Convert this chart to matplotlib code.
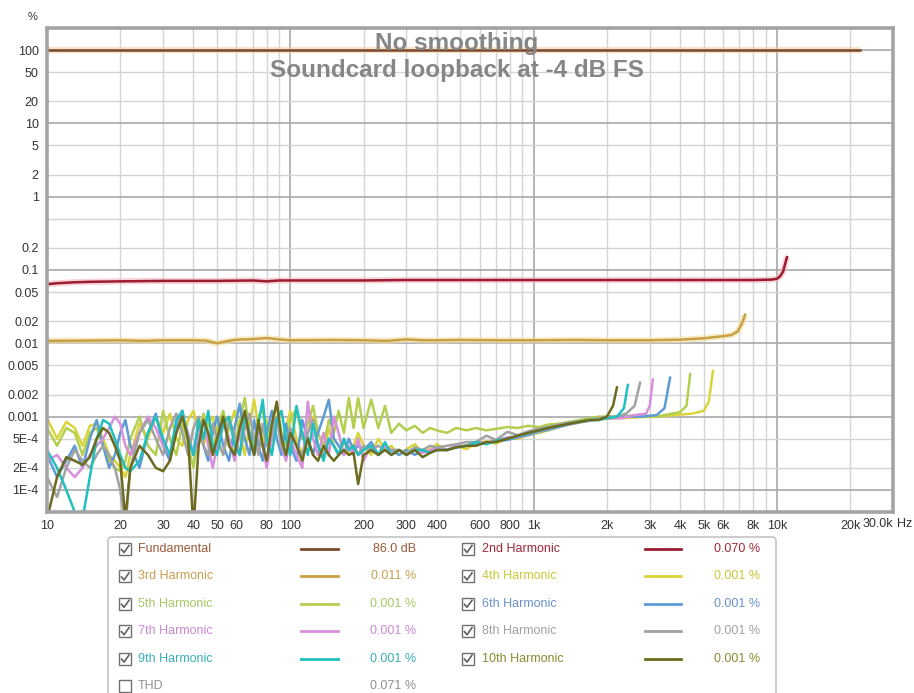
"""Harmonic distortion vs frequency, soundcard loopback (REW style)."""
import matplotlib
matplotlib.use("Agg")
import matplotlib.pyplot as plt
from matplotlib.patches import FancyBboxPatch, Rectangle
from matplotlib.lines import Line2D
from matplotlib.transforms import Affine2D
import numpy as np

W, H = 914, 693
plt.rcParams['font.family'] = ['Liberation Sans', 'DejaVu Sans']

# ---------------- data: frequency (Hz), distortion (%) ----------------
fund_f = [10, 22000]
fund_v = [100, 100]

h2_f = [10, 11, 13, 15, 20, 30, 50, 70, 80, 90, 100, 150, 200, 300, 500,
        1000, 2000, 5000, 8000, 9500, 10000, 10300, 10600, 10800, 11000]
h2_v = [0.064, 0.066, 0.068, 0.069, 0.070, 0.071, 0.071, 0.072, 0.070, 0.072,
        0.072, 0.072, 0.072, 0.073, 0.073, 0.073, 0.073, 0.073, 0.073, 0.074,
        0.076, 0.082, 0.095, 0.12, 0.15]

h3_f = [10, 15, 20, 25, 30, 40, 45, 50, 55, 60, 70, 80, 90, 100, 150, 200,
        250, 300, 350, 400, 500, 700, 1000, 1500, 2000, 3000, 4000, 5000,
        6000, 6500, 6900, 7200, 7400]
h3_v = [0.0108, 0.0109, 0.0110, 0.0108, 0.0110, 0.0110, 0.0109, 0.0100,
        0.0107, 0.0112, 0.0114, 0.0118, 0.0113, 0.0110, 0.0111, 0.0110,
        0.0108, 0.0113, 0.0110, 0.0110, 0.0111, 0.0110, 0.0110, 0.0111,
        0.0110, 0.0110, 0.0112, 0.0117, 0.0125, 0.0130, 0.0145, 0.019, 0.0245]

# shared frequency grid for the low-level harmonics, values in units of 1E-4 %
low_f = [10, 11, 12, 13, 14, 15, 16, 17, 18, 19,
         20, 21, 22, 24, 26, 28, 30, 32, 34, 36,
         38, 40, 42, 44, 46, 48, 50, 53, 56, 59,
         62, 65, 68, 71, 74, 77, 80, 84, 88, 92,
         96, 100, 106, 112, 118, 124, 130, 137, 144, 151,
         158, 166, 174, 182, 190, 200, 215, 230, 245, 260,
         280, 300, 325, 350, 375, 400, 440, 480, 530, 580,
         640, 700, 780, 860, 950, 1050, 1150, 1270, 1400, 1550,
         1700, 1850]

h4_low = [9.5, 5, 8.5, 7, 4, 7.5, 8, 5, 3, 2.5,
          2, 1.5, 3, 8, 5, 10, 6, 11, 5, 4,
          9, 12, 6, 4, 8, 10, 5, 3, 7, 12,
          6, 3, 8, 17, 7, 4, 9, 5, 10, 4,
          7, 12, 5, 3, 6, 10, 4, 3, 7, 4,
          3, 5, 3, 4, 6, 4, 3, 5, 3.5, 4,
          3.0, 3.6, 4.2, 3.2, 3.6, 4.2, 3.5, 4.0, 3.6, 4.4,
          4.6, 4.3, 5.0, 5.0, 5.6, 6.0, 6.5, 7.2, 7.8, 8.3,
          8.8, 9.2]
h4_tail_f = [2200, 2700, 3200, 3800, 4500, 5000, 5250, 5460]
h4_tail_v = [9.5, 9.8, 10, 10.5, 11, 12, 16, 42]

h5_low = [7, 4, 7, 6, 3, 6, 7, 4, 2.5, 2,
          1.8, 2.5, 5, 10, 4, 3, 12, 5, 3, 8,
          4, 2, 6, 11, 5, 3, 7, 12, 5, 3,
          9, 18, 6, 4, 10, 13, 5, 8, 14, 6,
          4, 9, 13, 5, 8, 14, 6, 4, 9, 6,
          12, 6, 18, 7, 18, 7, 17, 7, 14, 6,
          8, 6.5, 7.5, 6, 7, 6.5, 6, 7, 6.5, 7,
          6.5, 6.8, 7.2, 7, 7.5, 7.2, 7.8, 8, 8.5, 9,
          9.5, 10]
h5_tail_f = [2200, 2700, 3200, 3700, 4000, 4250, 4400]
h5_tail_v = [10, 10.5, 10, 11, 11.5, 14, 38]

h6_low = [3, 1.5, 2.5, 4, 2, 5, 9, 4, 2, 3,
          6, 9, 4, 2, 6, 11, 4, 2.5, 7, 12,
          5, 3, 8, 4, 2.5, 6, 10, 4, 2.5, 7,
          15, 5, 3, 9, 4, 2.5, 6, 12, 5, 3,
          8, 4, 2.5, 9, 5, 3, 6, 10, 17, 5,
          4, 3, 5, 3.5, 4, 3.5, 4.5, 3, 4, 3.5,
          3, 3.5, 3, 3.5, 3.2, 3.8, 3.5, 3.8, 4, 4.2,
          4.3, 4.6, 4.8, 5.2, 5.6, 6.2, 6.6, 7.2, 7.8, 8.4,
          8.8, 9.3]
h6_tail_f = [2000, 2400, 2800, 3200, 3450, 3640]
h6_tail_v = [9.5, 10, 10, 10.5, 13, 34]

h7_low = [2.5, 3, 2, 1.5, 2, 3, 4, 5, 7, 10,
          8, 4, 3, 6, 10, 7, 4, 3, 6, 10,
          6, 3, 5, 9, 4, 2, 4, 8, 5, 2.5,
          6, 10, 5, 3, 7, 4, 2, 5, 9, 4,
          2.5, 5, 3, 2, 16, 5, 3, 6, 3, 10,
          6, 3, 4, 3, 5, 2.5, 4, 3, 4, 3.5,
          3.5, 3, 3.5, 3.2, 3.5, 3.8, 3.5, 4, 4, 4.5,
          4.4, 4.8, 5.2, 5.3, 5.8, 6.3, 6.8, 7.3, 7.9, 8.4,
          8.9, 9.4]
h7_tail_f = [2000, 2300, 2600, 2900, 3000, 3090]
h7_tail_v = [9.5, 9.5, 10.5, 11, 14, 32]

h8_low = [1.5, 0.8, 2, 3.5, 2.5, 2, 3, 4, 3, 2,
          1, 0.3, 2, 6, 9, 5, 3, 7, 11, 6,
          3, 7, 10, 4, 3, 8, 5, 3, 9, 6,
          3, 7, 11, 5, 3, 8, 4, 6, 10, 4,
          3, 7, 4, 3, 6, 9, 4, 3, 5, 4,
          3, 4.5, 3.5, 4, 3, 4, 3.5, 4, 3.5, 3.5,
          3.5, 3.2, 3.8, 3.5, 4, 3.8, 4, 4.2, 4.5, 4.5,
          5.5, 4.8, 6.2, 5.6, 6.3, 6.9, 7.2, 7.8, 8.3, 8.6,
          9, 9.5]
h8_tail_f = [2000, 2200, 2400, 2600, 2740]
h8_tail_v = [10, 10, 11, 14, 29]

h9_low = [3.5, 2, 1, 0.5, 0.4, 1.5, 5, 9, 8, 5,
          3, 2, 1.8, 2.5, 6, 10, 5, 3, 9, 12,
          5, 3, 9, 5, 12, 4, 3, 8, 10, 4,
          3, 11, 6, 3, 8, 17, 5, 3, 9, 12,
          5, 3, 14, 6, 3, 8, 4, 2.5, 5, 4,
          3, 5, 3.5, 4, 3, 3.5, 4, 3, 4.5, 3,
          3.5, 3, 3.5, 3.5, 3.2, 3.5, 3.5, 3.8, 4, 4.5,
          4.2, 4.7, 5, 5.4, 5.9, 6.4, 6.9, 7.4, 8, 8.5,
          9, 9]
h9_tail_f = [2000, 2200, 2350, 2440]
h9_tail_v = [9.5, 10, 13, 27]

h10_low = [0.4, 1.5, 2.8, 2.5, 2.2, 2.8, 5, 7, 6, 4,
           2.5, 0.4, 2, 4, 3, 2, 1.8, 2.5, 6, 10,
           5, 0.3, 4, 9, 6, 3, 5, 10, 4, 3,
           7, 12, 5, 3, 9, 4, 2.5, 8, 16, 5,
           3, 6, 4, 2.5, 5, 3, 2.5, 4, 3, 2.5,
           3, 3.5, 3, 3.2, 1.2, 3, 3.5, 3, 3.5, 3,
           3.5, 3, 3.5, 2.8, 3.2, 3.5, 3.5, 3.8, 4, 4,
           4.5, 4.5, 5, 5.5, 6, 6.5, 7, 7.5, 8, 8.5,
           9, 9]
h10_tail_f = [2000, 2120, 2200]
h10_tail_v = [10, 14, 25]

labels = ["Fundamental", "2nd Harmonic", "3rd Harmonic", "4th Harmonic",
          "5th Harmonic", "6th Harmonic", "7th Harmonic", "8th Harmonic",
          "9th Harmonic", "10th Harmonic", "THD"]
readings = ["86.0 dB", "0.070 %", "0.011 %", "0.001 %", "0.001 %", "0.001 %",
            "0.001 %", "0.001 %", "0.001 %", "0.001 %", "0.071 %"]
line_colors = ["#7a4a2c", "#9c1c30", "#c9a044", "#d9d43a", "#b3cf4e",
               "#5d9bd6", "#d98fdd", "#a2a2a2", "#20bfc0", "#6c6a1e", None]
text_colors = ["#9a5a3a", "#a02838", "#c8a050", "#c8c838", "#a8c868",
               "#6890c8", "#c888d0", "#a0a0a0", "#38b0b8", "#8a8a30", "#909090"]

x_ticks = [10, 20, 30, 40, 50, 60, 80, 100, 200, 300, 400, 600, 800, 1000,
           2000, 3000, 4000, 5000, 6000, 8000, 10000, 20000]
x_labels = ["10", "20", "30", "40", "50", "60", "80", "100", "200", "300",
            "400", "600", "800", "1k", "2k", "3k", "4k", "5k", "6k", "8k",
            "10k", "20k"]
y_ticks = [100, 50, 20, 10, 5, 2, 1, 0.2, 0.1, 0.05, 0.02, 0.01, 0.005,
           0.002, 0.001, 5e-4, 2e-4, 1e-4]
y_labels = ["100", "50", "20", "10", "5", "2", "1", "0.2", "0.1", "0.05",
            "0.02", "0.01", "0.005", "0.002", "0.001", "5E-4", "2E-4", "1E-4"]

# ---------------- assemble series ----------------
low = [(h4_low, h4_tail_f, h4_tail_v), (h5_low, h5_tail_f, h5_tail_v),
       (h6_low, h6_tail_f, h6_tail_v), (h7_low, h7_tail_f, h7_tail_v),
       (h8_low, h8_tail_f, h8_tail_v), (h9_low, h9_tail_f, h9_tail_v),
       (h10_low, h10_tail_f, h10_tail_v)]
curves = [(fund_f, fund_v), (h2_f, h2_v), (h3_f, h3_v)]
for vals, tf, tv in low:
    curves.append((low_f + tf, np.array(vals + tv) * 1e-4))

# ---------------- figure ----------------
fig = plt.figure(figsize=(W / 100, H / 100), dpi=100)
px = Affine2D().scale(1 / W, -1 / H).translate(0, 1) + fig.transFigure

ax = fig.add_axes([47 / W, 1 - 512 / H, (893 - 47) / W, (512 - 28) / H])
ax.set_xscale("log")
ax.set_yscale("log")
ax.set_xlim(10, 30000)
ax.set_ylim(5e-5, 200)

# grid
for dec in [10, 100, 1000]:
    for m in range(1, 10):
        f = dec * m
        major = m == 1
        ax.axvline(f, color="#a8a8a8" if major else "#d4d4d4",
                   lw=1.2 if major else 1.0, zorder=1)
ax.axvline(10000, color="#a8a8a8", lw=1.2, zorder=1)
ax.axvline(20000, color="#d4d4d4", lw=1.0, zorder=1)
for e in range(-4, 3):
    for m in [1, 2, 5]:
        v = m * 10.0 ** e
        major = m == 1
        ax.axhline(v, color="#a8a8a8" if major else "#d4d4d4",
                   lw=1.2 if major else 1.0, zorder=1)

# curves
halos = {0: "#f6cfa6", 1: "#f3b8c0", 2: "#f3e0a8"}
for i, (f, v) in enumerate(curves):
    if i in halos:
        ax.plot(f, v, color=halos[i], lw=4.5, alpha=0.6, zorder=2,
                solid_capstyle="butt")
    ax.plot(f, v, color=line_colors[i], lw=1.8, zorder=3,
            solid_joinstyle="round")

ax.set_xticks(x_ticks, labels=x_labels)
ax.set_yticks(y_ticks, labels=y_labels)
ax.minorticks_off()
ax.tick_params(length=0, labelsize=9, labelcolor="#333333", pad=6)
for s in ax.spines.values():
    s.set_color("#a4a4a4")
    s.set_linewidth(2.6)
    s.set_zorder(5)

fig.text(33, 17, "%", transform=px, fontsize=8, color="#333333",
         ha="center", va="center")
fig.text(893, 524, "30.0k", transform=px, fontsize=9, color="#333333",
         ha="right", va="center")
fig.text(897, 524, "Hz", transform=px, fontsize=9, color="#333333",
         ha="left", va="center")

# title
fig.text(457, 50, "No smoothing", transform=px, fontsize=17.5,
         fontweight="bold", color="#868686", ha="center", va="baseline")
fig.text(457, 77, "Soundcard loopback at -4 dB FS", transform=px,
         fontsize=17.5, fontweight="bold", color="#868686", ha="center",
         va="baseline")

# ---------------- legend panel ----------------
fig.patches.append(FancyBboxPatch((108, 537), 668, 170, transform=px,
                                  boxstyle="round,pad=0,rounding_size=4",
                                  fc="white", ec="#c4c4c4", lw=1.2))
cols = [dict(box=119, text=138, l0=301, l1=338, val=416),
        dict(box=462, text=482, l0=645, l1=681, val=760)]
for i, lab in enumerate(labels):
    c = cols[i % 2]
    y = 549 + 27.4 * (i // 2)
    fig.patches.append(Rectangle((c["box"], y - 6), 12, 12, transform=px,
                                 fc="white", ec="#707070", lw=1.0))
    if line_colors[i] is not None:
        bx = c["box"]
        fig.lines.append(Line2D([bx + 2.5, bx + 5, bx + 10],
                                [y + 0.5, y + 3.5, y - 3.5], transform=px,
                                color="#606060", lw=1.2))
        fig.lines.append(Line2D([c["l0"], c["l1"]], [y, y], transform=px,
                                color=line_colors[i], lw=2))
    fig.text(c["text"], y, lab, transform=px, fontsize=9,
             color=text_colors[i], ha="left", va="center")
    fig.text(c["val"], y, readings[i], transform=px, fontsize=9,
             color=text_colors[i], ha="right", va="center")

fig.savefig("out.png", dpi=100)
